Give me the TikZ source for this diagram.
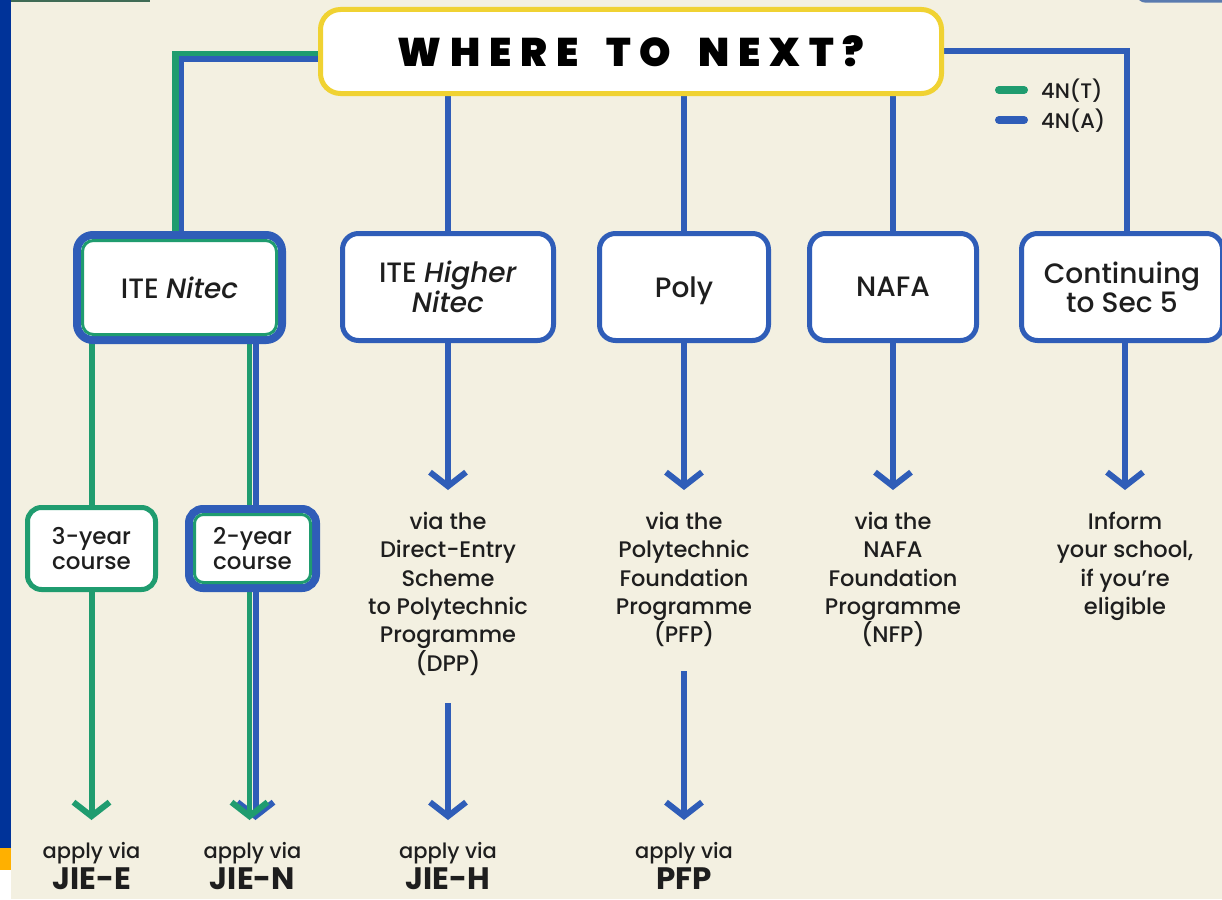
\documentclass[tikz,border=0pt]{standalone}
\usepackage{fontspec}
\IfFontExistsTF{Poppins Medium}{\setmainfont{Poppins Medium}[ItalicFont={Poppins Medium Italic},BoldFont={Poppins Bold}]}{\setmainfont{Poppins}}
\IfFontExistsTF{Poppins Black}{\newfontfamily\ttlfont{Poppins Black}[LetterSpace=22]}{\newfontfamily\ttlfont{Poppins Bold}[LetterSpace=24]}
\usetikzlibrary{arrows.meta}
\pgfdeclarelayer{back}
\pgfsetlayers{back,main}
\definecolor{bgc}{HTML}{F3F0E1}
\definecolor{nblue}{HTML}{2F5DB8}
\definecolor{ngreen}{HTML}{1F9C6F}
\definecolor{nyellow}{HTML}{F0D232}
\definecolor{lbar}{HTML}{003399}
\definecolor{orng}{HTML}{FFB000}
\definecolor{ink}{HTML}{1E1E1E}
\definecolor{fragG}{HTML}{3F6B55}
\definecolor{fragB}{HTML}{5A7BAF}
\begin{document}
\begin{tikzpicture}[x=1pt,y=-1pt,
 bx/.style={draw=nblue, line width=5pt, fill=white, rounded corners=16pt, outer sep=0pt, inner sep=0pt, align=center, text=ink, font=\fontsize{28}{29}\selectfont},
 bxd/.style={bx, line width=8pt},
 sbx/.style={bx, draw=ngreen, rounded corners=14pt, font=\fontsize{23}{24.5}\selectfont},
 sbxd/.style={sbx, draw=nblue, line width=8pt},
 ttl/.style={draw=nyellow, line width=5pt, fill=white, rounded corners=20pt, outer sep=0pt, inner sep=0pt, text=black, font=\fontsize{40}{40}\ttlfont},
 bl/.style={draw=nblue, line width=6pt},
 gl/.style={draw=ngreen, line width=6pt},
 chev/.style={-{Straight Barb[length=14pt,width=36pt,line width=6pt]}},
 mid/.style={align=center, inner sep=0pt, text=ink, font=\fontsize{22.5}{28.3}\selectfont},
 apl/.style={inner sep=0pt, text=ink, font=\fontsize{21}{24}\selectfont},
 big/.style={inner sep=0pt, text=ink, font=\fontsize{31}{33}\selectfont\bfseries},
 leg/.style={inner sep=0pt, text=ink, font=\fontsize{21}{24}\selectfont},
 swatch/.style={line width=8pt, line cap=round}
]
\useasboundingbox (0,0) rectangle (1222,899);
\begin{pgfonlayer}{back}
\fill[bgc] (0,0) rectangle (1222,899);
\fill[lbar] (0,0) rectangle (11,848);
\fill[orng] (0,848) rectangle (11,870);
\fill[white] (0,870) rectangle (11,899);
\end{pgfonlayer}
% clipped fragments at top edge
\draw[fragG, line width=3pt] (11,0.5) -- (150,0.5);
\begin{scope}
\clip (0,0) rectangle (1222,899);
\draw[fragB, line width=2.5pt, rounded corners=9pt] (1137,-20) -- (1137,1.5) -- (1240,1.5);
\end{scope}

% title
\node[ttl, minimum width=621pt, minimum height=84pt] (title) at (631,51.5) {WHERE\hspace{12pt} TO\hspace{12pt} NEXT?};

% legend
\draw[ngreen, swatch] (999,90) -- (1024,90);
\draw[nblue, swatch] (999,120) -- (1024,120);
\node[leg, anchor=base west] (lt) at (1041,98) {4N(T)};
\node[leg, anchor=base west] (la) at (1041,128) {4N(A)};

% main boxes
\node[bxd, minimum width=205pt, minimum height=105pt] (nitec) at (179.5,287.5) {ITE \textit{Nitec}};
\draw[ngreen, line width=3pt, rounded corners=11pt] ([xshift=5.5pt,yshift=-5.5pt]nitec.north west) rectangle ([xshift=-5.5pt,yshift=5.5pt]nitec.south east);
\node[bx, minimum width=211pt, minimum height=107pt] (higher) at (448,287) {ITE \textit{Higher}\\\textit{Nitec}};
\node[bx, minimum width=169pt, minimum height=107pt, text depth=0pt] (poly) at (684,287) {Poly};
\node[bx, minimum width=167pt, minimum height=107pt] (nafa) at (893,287) {NAFA};
\node[bx, minimum width=201pt, minimum height=107pt] (cont) at (1122,287) {Continuing\\to Sec 5};

% small boxes
\node[sbx, minimum width=128pt, minimum height=82pt] (y3) at (91.5,548.5) {3-year\\course};
\node[sbxd, minimum width=127pt, minimum height=79pt] (y2) at (252.5,548.5) {2-year\\course};
\draw[ngreen, line width=3pt, rounded corners=9pt] ([xshift=5.5pt,yshift=-5.5pt]y2.north west) rectangle ([xshift=-5.5pt,yshift=5.5pt]y2.south east);

% middle texts
\node[mid, anchor=north] (v3) at (448,512) {via the\\Direct-Entry\\Scheme\\to Polytechnic\\Programme\\(DPP)};
\node[mid, anchor=north] (v4) at (684,512) {via the\\Polytechnic\\Foundation\\Programme\\(PFP)};
\node[mid, anchor=north] (v5) at (893,512) {via the\\NAFA\\Foundation\\Programme\\(NFP)};
\node[mid, anchor=north] (v6) at (1125,512) {Inform\\your school,\\if you’re\\eligible};

% bottom texts
\node[apl, anchor=base] (p1) at (91.5,858) {apply via};
\node[big, anchor=base] (j1) at (91.5,889) {JIE-E};
\node[apl, anchor=base] (p2) at (252.5,858) {apply via};
\node[big, anchor=base] (j2) at (252.5,889) {JIE-N};
\node[apl, anchor=base] (p3) at (448,858) {apply via};
\node[big, anchor=base] (j3) at (448,889) {JIE-H};
\node[apl, anchor=base] (p4) at (684,858) {apply via};
\node[big, anchor=base] (j4) at (684,889) {PFP};

% arrow end points
\coordinate (t3) at (448,490);
\coordinate (t4) at (684,490);
\coordinate (t5) at (893,490);
\coordinate (t6) at (1125,490);
\coordinate (b1) at (91.5,820);
\coordinate (b2g) at (249.5,820);
\coordinate (b2b) at (255.5,820);
\coordinate (b3) at (448,820);
\coordinate (b4) at (684,820);

\begin{pgfonlayer}{back}
 % title to ITE Nitec (both streams)
 \draw[ngreen, line width=7pt] ([yshift=-3pt]title.west) -| ([xshift=-4pt]nitec.north);
 \draw[nblue, line width=5pt] ([yshift=-7.5pt]title.west) -| ([xshift=2pt]nitec.north);
 % title to Continuing
 \draw[bl] (title.east) -| ([xshift=5pt]cont.north);
 % title down to boxes
 \draw[bl] (title.south -| higher.north) -- (higher.north);
 \draw[bl] (title.south -| poly.north) -- (poly.north);
 \draw[bl] (title.south -| nafa.north) -- (nafa.north);
 % ITE Nitec to courses
 \draw[gl] (nitec.south -| y3.north) -- (y3.north);
 \draw[nblue, line width=6pt] ([xshift=3pt]nitec.south -| y2.north) -- ([xshift=3pt]y2.north);
 \draw[ngreen, line width=5pt] ([xshift=-3pt]nitec.south -| y2.north) -- ([xshift=-3pt]y2.north);
 % courses down
 \draw[gl, chev] (y3.south) -- (b1);
 \draw[bl, chev] ([xshift=3pt]y2.south) -- (b2b);
 \draw[ngreen, line width=5pt, chev] ([xshift=-3pt]y2.south) -- (b2g);
 % box to text arrows
 \draw[bl, chev] (higher.south) -- (t3);
 \draw[bl, chev] (poly.south) -- (t4);
 \draw[bl, chev] (nafa.south) -- (t5);
 \draw[bl, chev] (cont.south -| t6) -- (t6);
 % text to apply arrows
 \draw[bl, chev] ([yshift=-28pt]v3.south) -- (b3);
 \draw[bl, chev] ([yshift=-24pt]v4.south) -- (b4);
\end{pgfonlayer}
\end{tikzpicture}
\end{document}
